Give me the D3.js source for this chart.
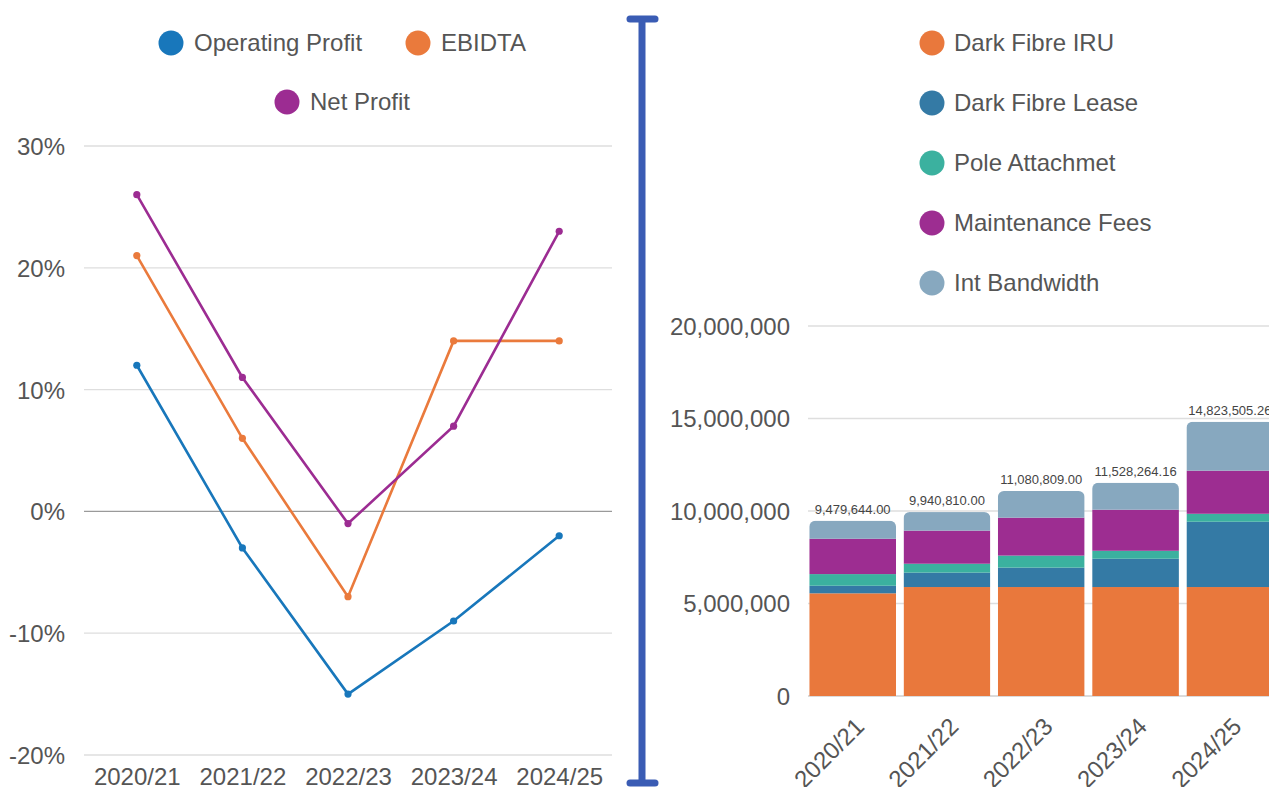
<!DOCTYPE html>
<html>
<head>
<meta charset="utf-8">
<script src="https://cdn.jsdelivr.net/npm/d3@7"></script>
<style>
  body { margin: 0; background: #fff; overflow: hidden; }
  svg { display: block; font-family: "Liberation Sans", Arial, sans-serif; }
</style>
</head>
<body>
<div id="chart"></div>
<script>
// ---- data ----
var years = ['2020/21', '2021/22', '2022/23', '2023/24', '2024/25'];

var profitNames = ['Operating Profit', 'EBIDTA', 'Net Profit'];
var operatingProfit = [12, -3, -15, -9, -2];
var ebidta = [21, 6, -7, 14, 14];
var netProfit = [26, 11, -1, 7, 23];
var pctTicks = [-20, -10, 0, 10, 20, 30];

var revenueNames = ['Dark Fibre IRU', 'Dark Fibre Lease', 'Pole Attachmet', 'Maintenance Fees', 'Int Bandwidth'];
var darkFibreIRU = [5550000, 5890000, 5890000, 5890000, 5890000];
var darkFibreLease = [410000, 780000, 1050000, 1530000, 3530000];
var poleAttachmet = [630000, 480000, 650000, 430000, 430000];
var maintenanceFees = [1910000, 1790000, 2050000, 2220000, 2330000];
var intBandwidth = [979644, 1000810, 1440809, 1458264.16, 2643505.26];
var revenueTicks = [0, 5000000, 10000000, 15000000, 20000000];

var profitColors = ['#1877bb', '#ea7a3c', '#9c2c92'];
var revenueColors = ['#e9783c', '#347aa5', '#3bb19f', '#9d2d91', '#87a8bf'];

var W = 1269, H = 787;
var textColor = '#555';

var svg = d3.select('#chart').append('svg')
            .attr('width', W)
            .attr('height', H);

// ---- left: profit margins ----
var createLineChart = function createLineChart() {
    var g = svg.append('g');
    var x = d3.scalePoint().domain(years).range([84, 612]).padding(0.5);
    var y = d3.scaleLinear().domain([-20, 30]).range([755, 146]);

    // grid
    g.selectAll('line.grid')
     .data(pctTicks)
     .enter().append('line')
        .attr('x1', 84).attr('x2', 612)
        .attr('y1', function(d) { return y(d); })
        .attr('y2', function(d) { return y(d); })
        .attr('stroke', function(d) { return d === 0 ? '#9a9a9a' : '#dedede'; })
        .attr('stroke-width', 1.3);

    var yAxis = d3.axisLeft(y).tickValues(pctTicks).tickSize(0).tickPadding(0)
                  .tickFormat(function(d) { return d + '%'; });
    var ya = g.append('g').attr('transform', 'translate(65,0)').call(yAxis);
    ya.select('.domain').remove();
    ya.selectAll('text').attr('fill', textColor).style('font-size', '24px').attr('dy', '0.35em');

    var xAxis = d3.axisBottom(x).tickSize(0).tickPadding(0);
    var xa = g.append('g').attr('transform', 'translate(0,768)').call(xAxis);
    xa.select('.domain').remove();
    xa.selectAll('text').attr('fill', textColor).style('font-size', '24px').attr('dy', '0.71em');

    var series = [operatingProfit, ebidta, netProfit];
    var line = d3.line()
                 .x(function(d, i) { return x(years[i]); })
                 .y(function(d) { return y(d); });

    series.forEach(function(vals, s) {
        g.append('path')
         .datum(vals)
         .attr('d', line)
         .attr('fill', 'none')
         .attr('stroke', profitColors[s])
         .attr('stroke-width', 2.6);
        g.selectAll('circle.s' + s)
         .data(vals)
         .enter().append('circle')
            .attr('cx', function(d, i) { return x(years[i]); })
            .attr('cy', function(d) { return y(d); })
            .attr('r', 3.6)
            .attr('fill', profitColors[s]);
    });

    // legend
    var legendPos = [[171, 43], [418, 43], [287, 102]];
    profitNames.forEach(function(name, i) {
        var lg = g.append('g').attr('transform', 'translate(' + legendPos[i][0] + ',' + legendPos[i][1] + ')');
        lg.append('circle').attr('r', 12.5).attr('fill', profitColors[i]);
        lg.append('text').attr('x', 23).attr('dy', '0.35em')
          .attr('fill', textColor).style('font-size', '24px').text(name);
    });
}

// ---- divider ----
var createDivider = function createDivider() {
    var g = svg.append('g').attr('stroke', '#3a5cb4').attr('stroke-width', 7).attr('stroke-linecap', 'round');
    g.append('line').attr('x1', 642).attr('x2', 642).attr('y1', 19).attr('y2', 783).attr('stroke-linecap', 'butt');
    g.append('line').attr('x1', 630).attr('x2', 655).attr('y1', 19).attr('y2', 19);
    g.append('line').attr('x1', 630).attr('x2', 655).attr('y1', 783).attr('y2', 783);
}

// ---- right: revenue stack ----
var createBarChart = function createBarChart() {
    var g = svg.append('g');
    var rows = years.map(function(yr, i) {
        return {
            year: yr,
            'Dark Fibre IRU': darkFibreIRU[i],
            'Dark Fibre Lease': darkFibreLease[i],
            'Pole Attachmet': poleAttachmet[i],
            'Maintenance Fees': maintenanceFees[i],
            'Int Bandwidth': intBandwidth[i]
        };
    });
    var stacked = d3.stack().keys(revenueNames)(rows);

    var x = d3.scaleBand().domain(years).range([805.5, 1277]).paddingInner(0.08).paddingOuter(0.04);
    var y = d3.scaleLinear().domain([0, 20000000]).range([696, 326]);

    g.selectAll('line.grid')
     .data(revenueTicks)
     .enter().append('line')
        .attr('x1', 808).attr('x2', W)
        .attr('y1', function(d) { return y(d); })
        .attr('y2', function(d) { return y(d); })
        .attr('stroke', function(d) { return d === 0 ? '#cfcfcf' : '#dedede'; })
        .attr('stroke-width', 1.3);

    var yAxis = d3.axisLeft(y).tickValues(revenueTicks).tickSize(0).tickPadding(0).tickFormat(d3.format(','));
    var ya = g.append('g').attr('transform', 'translate(790,0)').call(yAxis);
    ya.select('.domain').remove();
    ya.selectAll('text').attr('fill', textColor).style('font-size', '24px').attr('dy', '0.35em');

    var defs = svg.append('defs');
    var totals = rows.map(function(r) {
        return d3.sum(revenueNames, function(k) { return r[k]; });
    });

    years.forEach(function(yr, i) {
        defs.append('clipPath').attr('id', 'clip' + i)
            .append('rect')
            .attr('x', x(yr))
            .attr('y', y(totals[i]))
            .attr('width', x.bandwidth())
            .attr('height', y(0) - y(totals[i]) + 10)
            .attr('rx', 6);
    });

    var bars = g.selectAll('g.bar')
                .data(years)
                .enter().append('g')
                .attr('clip-path', function(d, i) { return 'url(#clip' + i + ')'; });

    bars.each(function(yr, i) {
        var bg = d3.select(this);
        stacked.forEach(function(layer, s) {
            bg.append('rect')
              .attr('x', x(yr))
              .attr('y', y(layer[i][1]))
              .attr('width', x.bandwidth())
              .attr('height', y(layer[i][0]) - y(layer[i][1]))
              .attr('fill', revenueColors[s]);
        });
    });

    g.selectAll('text.total')
     .data(years)
     .enter().append('text')
        .attr('x', function(d) { return x(d) + x.bandwidth() / 2; })
        .attr('y', function(d, i) { return y(totals[i]) - 7; })
        .attr('text-anchor', 'middle')
        .attr('fill', '#444')
        .style('font-size', '13px')
        .text(function(d, i) { return d3.format(',.2f')(totals[i]); });

    g.selectAll('text.xlab')
     .data(years)
     .enter().append('text')
        .attr('transform', function(d) {
            return 'translate(' + (x(d) + x.bandwidth() / 2 + 13) + ',728) rotate(-45)';
        })
        .attr('text-anchor', 'end')
        .attr('fill', textColor)
        .style('font-size', '24px')
        .text(function(d) { return d; });

    // legend
    revenueNames.forEach(function(name, i) {
        var lg = g.append('g').attr('transform', 'translate(932,' + (43 + i * 60) + ')');
        lg.append('circle').attr('r', 12.5).attr('fill', revenueColors[i]);
        lg.append('text').attr('x', 22).attr('dy', '0.35em')
          .attr('fill', textColor).style('font-size', '24px').text(name);
    });
}

createLineChart();
createDivider();
createBarChart();
</script>
</body>
</html>
